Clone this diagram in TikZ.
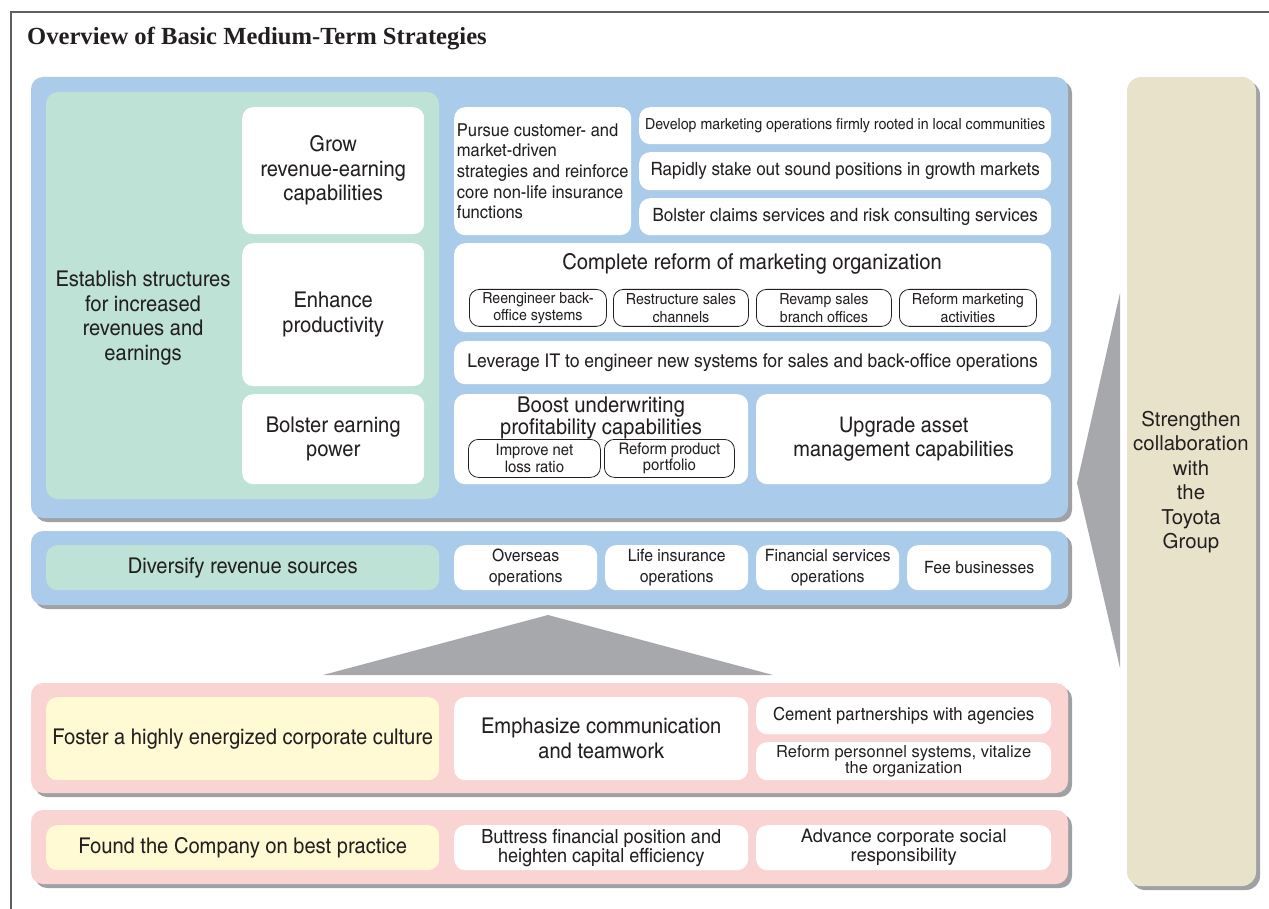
\documentclass[tikz,border=0pt]{standalone}
\usepackage{fontspec}
\setmainfont{TeX Gyre Heros}
\newfontfamily\cnfont[FakeStretch=1.13]{TeX Gyre Heros Cn}
\newfontfamily\titlefont{Liberation Serif}
\usetikzlibrary{
  positioning,
}
\definecolor{panelblue}{RGB}{171, 203, 235}
\definecolor{panelgreen}{RGB}{190, 226, 213}
\definecolor{panelpink}{RGB}{250, 212, 210}
\definecolor{paleyellow}{RGB}{255, 249, 212}
\definecolor{toyotabeige}{RGB}{233, 226, 202}
\definecolor{shadowgray}{RGB}{160, 161, 165}
\definecolor{wedgegray}{RGB}{167, 168, 172}
\definecolor{framegray}{RGB}{95, 95, 95}
\definecolor{ink}{RGB}{35, 31, 32}
\tikzstyle{panel} = [
  rounded corners=12pt,
]
\tikzstyle{box} = [
  rectangle,
  rounded corners=11pt,
  fill=white,
  inner sep=0pt,
  align=center,
  anchor=north west,
  text=ink,
]
\tikzstyle{pill} = [
  rectangle,
  rounded corners=10pt,
  draw=ink,
  line width=0.8pt,
  fill=white,
  inner sep=0pt,
  align=center,
  anchor=north west,
  text=ink,
  font=\cnfont\fontsize{15.3}{17.5}\selectfont,
]
\tikzstyle{bigtext} = [font=\cnfont\fontsize{21.7}{24.5}\selectfont]
\tikzstyle{midtext} = [font=\cnfont\fontsize{17}{20.5}\selectfont]

\begin{document}
\begin{tikzpicture}[x=1pt, y=-1pt]

        \useasboundingbox (0,0) rectangle (1269,909);

        \draw [framegray, line width=1.3pt] (11,909) -- (11,12) -- (1269,12);

        \node [anchor=base west, inner sep=0pt, text=ink, font=\titlefont\bfseries\fontsize{24.6}{28}\selectfont]
              (title) at (27,45) {Overview of Basic Medium-Term Strategies};

        % upper blue panel
        \fill [shadowgray, panel] (35,81) rectangle (1072,522);
        \fill [panelblue, panel] (31,77) rectangle (1068,518);
        \fill [panelgreen, panel] (46,92) rectangle (439,499);

        \node [bigtext, text=ink, align=center] (establish) at (143,318)
              {Establish structures\\for increased\\revenues and\\earnings};

        \node [box, bigtext, minimum width=182pt, minimum height=127pt] (grow) at (242,107)
              {Grow\\revenue-earning\\capabilities};
        \node [box, bigtext, minimum width=182pt, minimum height=143pt] (enhance) at (242,243)
              {Enhance\\productivity};
        \node [box, bigtext, minimum width=182pt, minimum height=90pt] (bolster) at (242,394)
              {Bolster earning\\power};

        \node [box, font=\cnfont\fontsize{17.8}{20.7}\selectfont, align=left,
               minimum width=177pt, minimum height=128pt] (pursue) at (454,107)
              {Pursue customer- and\\market-driven\\strategies and reinforce\\core non-life insurance\\functions};

        \node [box, font=\cnfont\fontsize{15.3}{20}\selectfont, minimum width=412pt, minimum height=37pt]
              (develop) at (639,107) {Develop marketing operations firmly rooted in local communities};
        \node [box, font=\cnfont\fontsize{18.3}{23}\selectfont, minimum width=412pt, minimum height=38pt]
              (rapidly) at (639,152) {Rapidly stake out sound positions in growth markets};
        \node [box, font=\cnfont\fontsize{18.3}{23}\selectfont, minimum width=412pt, minimum height=37pt]
              (claims) at (639,198) {Bolster claims services and risk consulting services};

        \node [box, minimum width=597pt, minimum height=89pt] (reform) at (454,243) {};
        \node [bigtext, text=ink] (reformtitle) at (752,264) {Complete reform of marketing organization};
        \node [pill, minimum width=137pt, minimum height=37pt] (backoffice) at (469,289)
              {Reengineer back-\\office systems};
        \node [pill, minimum width=135pt, minimum height=37pt] (channels) at (613,289)
              {Restructure sales\\channels};
        \node [pill, minimum width=135pt, minimum height=37pt] (branches) at (756,289)
              {Revamp sales\\branch offices};
        \node [pill, minimum width=137pt, minimum height=37pt] (activities) at (899,289)
              {Reform marketing\\activities};

        \node [box, font=\cnfont\fontsize{18.9}{24}\selectfont, minimum width=597pt, minimum height=43pt]
              (leverage) at (454,341) {Leverage IT to engineer new systems for sales and back-office operations};

        \node [box, minimum width=294pt, minimum height=90pt] (boost) at (454,394) {};
        \node [text=ink, align=center, inner sep=0pt, font=\cnfont\fontsize{21.8}{18.5}\selectfont]
              (boosttitle) at (601,418) {Boost underwriting\\profitability capabilities};
        \node [pill, font=\cnfont\fontsize{16}{16.5}\selectfont, minimum width=132pt, minimum height=38pt]
              (lossratio) at (468,439) {Improve net\\loss ratio};
        \node [pill, font=\cnfont\fontsize{16}{16.5}\selectfont, minimum width=130pt, minimum height=38pt]
              (portfolio) at (604,439) {Reform product\\portfolio};

        \node [box, font=\cnfont\fontsize{21.5}{24.5}\selectfont, minimum width=295pt, minimum height=90pt]
              (asset) at (756,394) {Upgrade asset\\management capabilities};

        % diversify panel
        \fill [shadowgray, panel] (35,535) rectangle (1072,609);
        \fill [panelblue, panel] (31,531) rectangle (1068,605);

        \node [box, bigtext, fill=panelgreen, minimum width=393pt, minimum height=45pt]
              (diversify) at (46,545) {Diversify revenue sources};
        \node [box, midtext, minimum width=143pt, minimum height=45pt] (overseas) at (454,545)
              {Overseas\\operations};
        \node [box, midtext, minimum width=143pt, minimum height=45pt] (life) at (605,545)
              {Life insurance\\operations};
        \node [box, midtext, minimum width=143pt, minimum height=45pt] (financial) at (756,545)
              {Financial services\\operations};
        \node [box, midtext, minimum width=144pt, minimum height=45pt] (fee) at (907,545)
              {Fee businesses};

        \fill [wedgegray] (323,675) -- (548,615) -- (773,675) -- cycle;

        % culture panel
        \fill [shadowgray, panel] (35,687) rectangle (1072,797);
        \fill [panelpink, panel] (31,683) rectangle (1068,793);

        \node [box, bigtext, fill=paleyellow, minimum width=393pt, minimum height=83pt]
              (foster) at (46,697) {Foster a highly energized corporate culture};
        \node [box, font=\cnfont\fontsize{21.7}{25}\selectfont, minimum width=294pt, minimum height=83pt]
              (emphasize) at (454,697) {Emphasize communication\\and teamwork};
        \node [box, font=\cnfont\fontsize{18}{20}\selectfont, minimum width=295pt, minimum height=37pt]
              (agencies) at (756,697) {Cement partnerships with agencies};
        \node [box, font=\fontsize{16.5}{15.5}\selectfont, minimum width=295pt, minimum height=38pt]
              (personnel) at (756,742) {Reform personnel systems, vitalize\\the organization};

        % best practice panel
        \fill [shadowgray, panel] (35,814) rectangle (1072,888);
        \fill [panelpink, panel] (31,810) rectangle (1068,884);

        \node [box, bigtext, fill=paleyellow, minimum width=393pt, minimum height=45pt]
              (found) at (46,825) {Found the Company on best practice};
        \node [box, font=\cnfont\fontsize{19.5}{19}\selectfont, minimum width=294pt, minimum height=45pt]
              (buttress) at (454,825) {Buttress financial position and\\heighten capital efficiency};
        \node [box, font=\fontsize{18.4}{19}\selectfont, minimum width=295pt, minimum height=45pt]
              (csr) at (756,825) {Advance corporate social\\responsibility};

        % toyota column
        \fill [wedgegray] (1077,483) -- (1120,293) -- (1120,668) -- cycle;
        \fill [shadowgray, rounded corners=14pt] (1131,81) rectangle (1260,890);
        \fill [toyotabeige, rounded corners=14pt] (1127,77) rectangle (1256,886);

        \node [text=ink, align=center, font=\fontsize{20.4}{24.5}\selectfont] (toyota) at (1191,482)
              {Strengthen\\collaboration\\with\\the\\Toyota\\Group};

      \end{tikzpicture}
\end{document}
